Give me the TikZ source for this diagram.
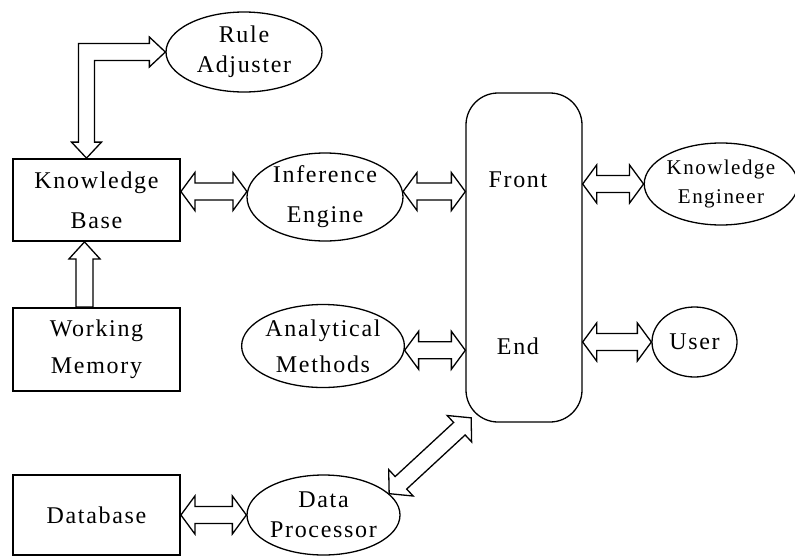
\documentclass[tikz,border=0pt]{standalone}
\usepackage{fontspec}
\setmainfont{Liberation Serif}[LetterSpace=7]
\usetikzlibrary{calc,shapes.geometric}
\tikzset{
  box/.style={draw, line width=1.8pt, inner sep=0pt, align=center,
    font=\fontsize{24}{40}\selectfont},
  oval/.style={ellipse, draw, line width=1.3pt, inner sep=0pt, align=center,
    font=\fontsize{24}{32}\selectfont},
  blk/.style={draw, line width=1.3pt, line join=miter},
}
\def\ArrSW{8.5pt}
\def\ArrHW{19pt}
\def\ArrHL{14pt}
\newcommand{\DblArrow}[2]{%
  \draw[blk] let \p1=(#1), \p2=(#2),
    \n1={veclen(\x2-\x1,\y2-\y1)}, \n2={atan2(\y2-\y1,\x2-\x1)} in
    [shift={(\p1)}, rotate=\n2]
    (0pt,0pt) -- (\ArrHL,\ArrHW) -- (\ArrHL,\ArrSW) -- ({\n1-\ArrHL},\ArrSW)
    -- ({\n1-\ArrHL},\ArrHW) -- (\n1,0pt) -- ({\n1-\ArrHL},-\ArrHW)
    -- ({\n1-\ArrHL},-\ArrSW) -- (\ArrHL,-\ArrSW) -- (\ArrHL,-\ArrHW) -- cycle;}
\newcommand{\OneArrow}[2]{%
  \draw[blk] let \p1=(#1), \p2=(#2),
    \n1={veclen(\x2-\x1,\y2-\y1)}, \n2={atan2(\y2-\y1,\x2-\x1)} in
    [shift={(\p1)}, rotate=\n2]
    (0pt,\ArrSW) -- ({\n1-\ArrHL},\ArrSW) -- ({\n1-\ArrHL},\ArrHW) -- (\n1,0pt)
    -- ({\n1-\ArrHL},-\ArrHW) -- ({\n1-\ArrHL},-\ArrSW) -- (0pt,-\ArrSW) -- cycle;}
\begin{document}
\begin{tikzpicture}[x=1pt, y=-1pt]
\useasboundingbox (0,0) rectangle (795,557);
% rectangles
\node[box, minimum width=167pt, minimum height=82pt] (kb) at (96.5,200) {Knowledge\\Base};
\node[box, minimum width=167pt, minimum height=83pt, font=\fontsize{24}{37}\selectfont] (wm) at (96.5,349.5) {Working\\Memory};
\node[box, minimum width=167pt, minimum height=80pt] (db) at (96.5,515) {Database};
% ellipses
\node[oval, minimum width=156pt, minimum height=80pt, font=\fontsize{24}{30}\selectfont] (ra) at (244,52) {Rule\\Adjuster};
\node[oval, minimum width=156pt, minimum height=88pt, font=\fontsize{24}{40}\selectfont] (ie) at (325,197) {Inference\\Engine};
\node[oval, minimum width=158pt, minimum height=83pt, font=\fontsize{24}{36}\selectfont] (am) at (323,346) {Analytical\\Methods};
\node[oval, minimum width=153pt, minimum height=80pt, font=\fontsize{24}{30}\selectfont] (dp) at (323.5,515) {Data\\Processor};
\node[oval, minimum width=144pt, minimum height=82pt, font=\fontsize{21}{29}\selectfont] (ke) at (721,184) {Knowledge\\Engineer};
\node[oval, minimum width=85pt, minimum height=70pt] (us) at (694.5,342) {User};
% front end
\node[draw, line width=1.3pt, rounded corners=32pt, minimum width=116pt, minimum height=329pt,
  inner sep=0pt,
  label={[name=fet, align=center, font=\fontsize{24}{167}\selectfont, xshift=-6pt, yshift=-6pt]center:Front\\End}]
  (fe) at (524,257.5) {};
% connectors
\DblArrow{kb.east |- ie.176}{ie.176}
\DblArrow{ie.4}{fe.west |- ie.4}
\DblArrow{am.-3}{fe.west |- am.-3}
\DblArrow{fe.east |- ke.west}{ke.west}
\DblArrow{fe.east |- us.west}{us.west}
\DblArrow{db.east}{dp.west}
\def\ArrHW{18pt}\def\ArrHL{16pt}
\DblArrow{dp.18}{$(fe.south west)+(6,-5)$}
\def\ArrHW{15.5pt}\def\ArrHL{17pt}
\OneArrow{$(wm.north)+(-12,0)$}{$(kb.south)+(-12,0)$}
% elbow arrow between knowledge base and rule adjuster
\coordinate (eb) at ($(kb.north)+(-10,0)$);
\draw[blk] let \p1=(eb), \p2=(ra.west) in
  (\p1) -- (\x1-15pt,\y1+16pt) -- (\x1-8pt,\y1+16pt) -- (\x1-8pt,\y2+8.5pt)
  -- (\x2-16pt,\y2+8.5pt) -- (\x2-16pt,\y2+15pt) -- (\p2) -- (\x2-16pt,\y2-15pt)
  -- (\x2-16pt,\y2-8.5pt) -- (\x1+8pt,\y2-8.5pt) -- (\x1+8pt,\y1+16pt)
  -- (\x1+15pt,\y1+16pt) -- cycle;
\end{tikzpicture}
\end{document}
